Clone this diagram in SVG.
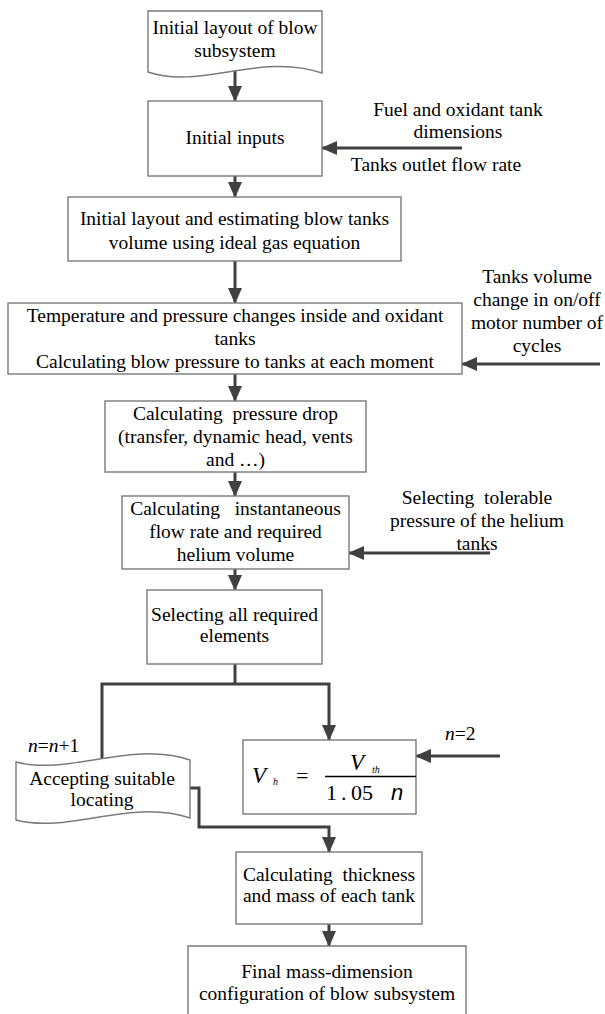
<svg xmlns="http://www.w3.org/2000/svg" width="605" height="1014" viewBox="0 0 605 1014">
<style>
text{font-family:"Liberation Serif","Times New Roman",serif;font-size:19.5px;fill:#000;}
.m{text-anchor:middle;}
.pre{white-space:pre;}
.box{fill:#fff;stroke:#7a7a7a;stroke-width:1.4;}
.c{fill:none;stroke:#404040;stroke-width:3;}
.it{font-style:italic;}
</style>
<defs>
<marker id="ah" viewBox="0 0 16 14" refX="15" refY="7" markerWidth="16" markerHeight="14" markerUnits="userSpaceOnUse" orient="auto">
<path d="M0,0 L16,7 L0,14 z" fill="#404040"/>
</marker>
</defs>
<rect width="605" height="1014" fill="#fff"/>

<g id="connectors">
<path class="c" d="M235,71 V101" marker-end="url(#ah)"/>
<path class="c" d="M462,148 H322" marker-end="url(#ah)"/>
<path class="c" d="M235,176 V197" marker-end="url(#ah)"/>
<path class="c" d="M235,261 V303" marker-end="url(#ah)"/>
<path class="c" d="M600,364 H462" marker-end="url(#ah)"/>
<path class="c" d="M235,374 V401" marker-end="url(#ah)"/>
<path class="c" d="M235,472 V496" marker-end="url(#ah)"/>
<path class="c" d="M490,553 H349" marker-end="url(#ah)"/>
<path class="c" d="M235,569 V590" marker-end="url(#ah)"/>
<path class="c" d="M235,664 V684"/>
<path class="c" d="M102,759 V684 H329 V740" marker-end="url(#ah)"/>
<path class="c" d="M500,756 H416" marker-end="url(#ah)"/>
<path class="c" d="M188,788 H199 V827 H329 V852" marker-end="url(#ah)"/>
<path class="c" d="M329,924 V946" marker-end="url(#ah)"/>
</g>

<g id="n1">
<path class="box" d="M148,11 H322 V73 C260,52 200,90 148,72 Z"/>
<text class="m" x="235" y="34">Initial layout of blow</text>
<text class="m" x="235" y="57">subsystem</text>
</g>

<g id="n2">
<rect class="box" x="148" y="101" width="174" height="75"/>
<text class="m" x="235" y="144">Initial inputs</text>
</g>

<g id="in1">
<text class="m" x="458" y="116">Fuel and oxidant tank</text>
<text class="m" x="458" y="138">dimensions</text>
<text class="m" x="436" y="171">Tanks outlet flow rate</text>
</g>

<g id="n3">
<rect class="box" x="68" y="197" width="333" height="64"/>
<text class="m" x="234.5" y="225">Initial layout and estimating blow tanks</text>
<text class="m" x="234.5" y="249">volume using ideal gas equation</text>
</g>

<g id="n4">
<rect class="box" x="8" y="303" width="454" height="71"/>
<text class="m" x="235" y="322">Temperature and pressure changes inside and oxidant</text>
<text class="m" x="235" y="345">tanks</text>
<text class="m" x="235" y="368">Calculating blow pressure to tanks at each moment</text>
</g>

<g id="in2">
<text class="m" x="537" y="283">Tanks volume</text>
<text class="m" x="537" y="306">change in on/off</text>
<text class="m" x="537" y="329">motor number of</text>
<text class="m" x="537" y="352">cycles</text>
</g>

<g id="n5">
<rect class="box" x="105" y="401" width="261" height="71"/>
<text class="m pre" x="235.5" y="420">Calculating  pressure drop</text>
<text class="m" x="235.5" y="443">(transfer, dynamic head, vents</text>
<text class="m" x="235.5" y="466">and …)</text>
</g>

<g id="n6">
<rect class="box" x="122" y="496" width="227" height="73"/>
<text class="m pre" x="235.5" y="515">Calculating   instantaneous</text>
<text class="m" x="235.5" y="538">flow rate and required</text>
<text class="m" x="235.5" y="561">helium volume</text>
</g>

<g id="in3">
<text class="m pre" x="477" y="504">Selecting  tolerable</text>
<text class="m" x="477" y="527">pressure of the helium</text>
<text class="m" x="477" y="550">tanks</text>
</g>

<g id="n7">
<rect class="box" x="147" y="590" width="175" height="74"/>
<text class="m" x="234.5" y="621">Selecting all required</text>
<text class="m" x="234.5" y="642">elements</text>
</g>

<g id="n8">
<path class="box" d="M16,762 C70,776 130,740 190,760 V818 C130,798 70,834 16,820 Z"/>
<text x="28" y="752"><tspan class="it">n</tspan>=<tspan class="it">n</tspan>+1</text>
<text class="m" x="102" y="785">Accepting suitable</text>
<text class="m" x="102" y="806">locating</text>
</g>

<g id="n9">
<rect class="box" x="243" y="740" width="173" height="74"/>
<text class="it" x="252" y="783" style="font-size:23px">V</text>
<text class="it" x="273" y="785" style="font-size:10px">h</text>
<text x="296" y="783" style="font-size:22px">=</text>
<text class="it" x="350" y="770" style="font-size:23px">V</text>
<text class="it" x="372" y="773" style="font-size:10px">th</text>
<line x1="325" y1="776.5" x2="416" y2="776.5" stroke="#000" stroke-width="1.5"/>
<text x="326" y="800" style="font-size:22px">1</text>
<text x="341" y="800" style="font-size:22px">.</text>
<text x="351" y="800" style="font-size:22px">05</text>
<text x="391" y="800" style="font-size:22px;font-family:'Liberation Sans',Arial,sans-serif;font-style:italic">n</text>
</g>

<g id="in4">
<text x="445" y="740"><tspan class="it">n</tspan>=2</text>
</g>

<g id="n10">
<rect class="box" x="236" y="852" width="186" height="72"/>
<text class="m pre" x="329" y="881">Calculating  thickness</text>
<text class="m" x="329" y="902">and mass of each tank</text>
</g>

<g id="n11">
<path class="box" d="M188,1016 V946 H466 V1016"/>
<text class="m" x="327" y="978">Final mass-dimension</text>
<text class="m" x="327" y="1000">configuration of blow subsystem</text>
</g>
</svg>
